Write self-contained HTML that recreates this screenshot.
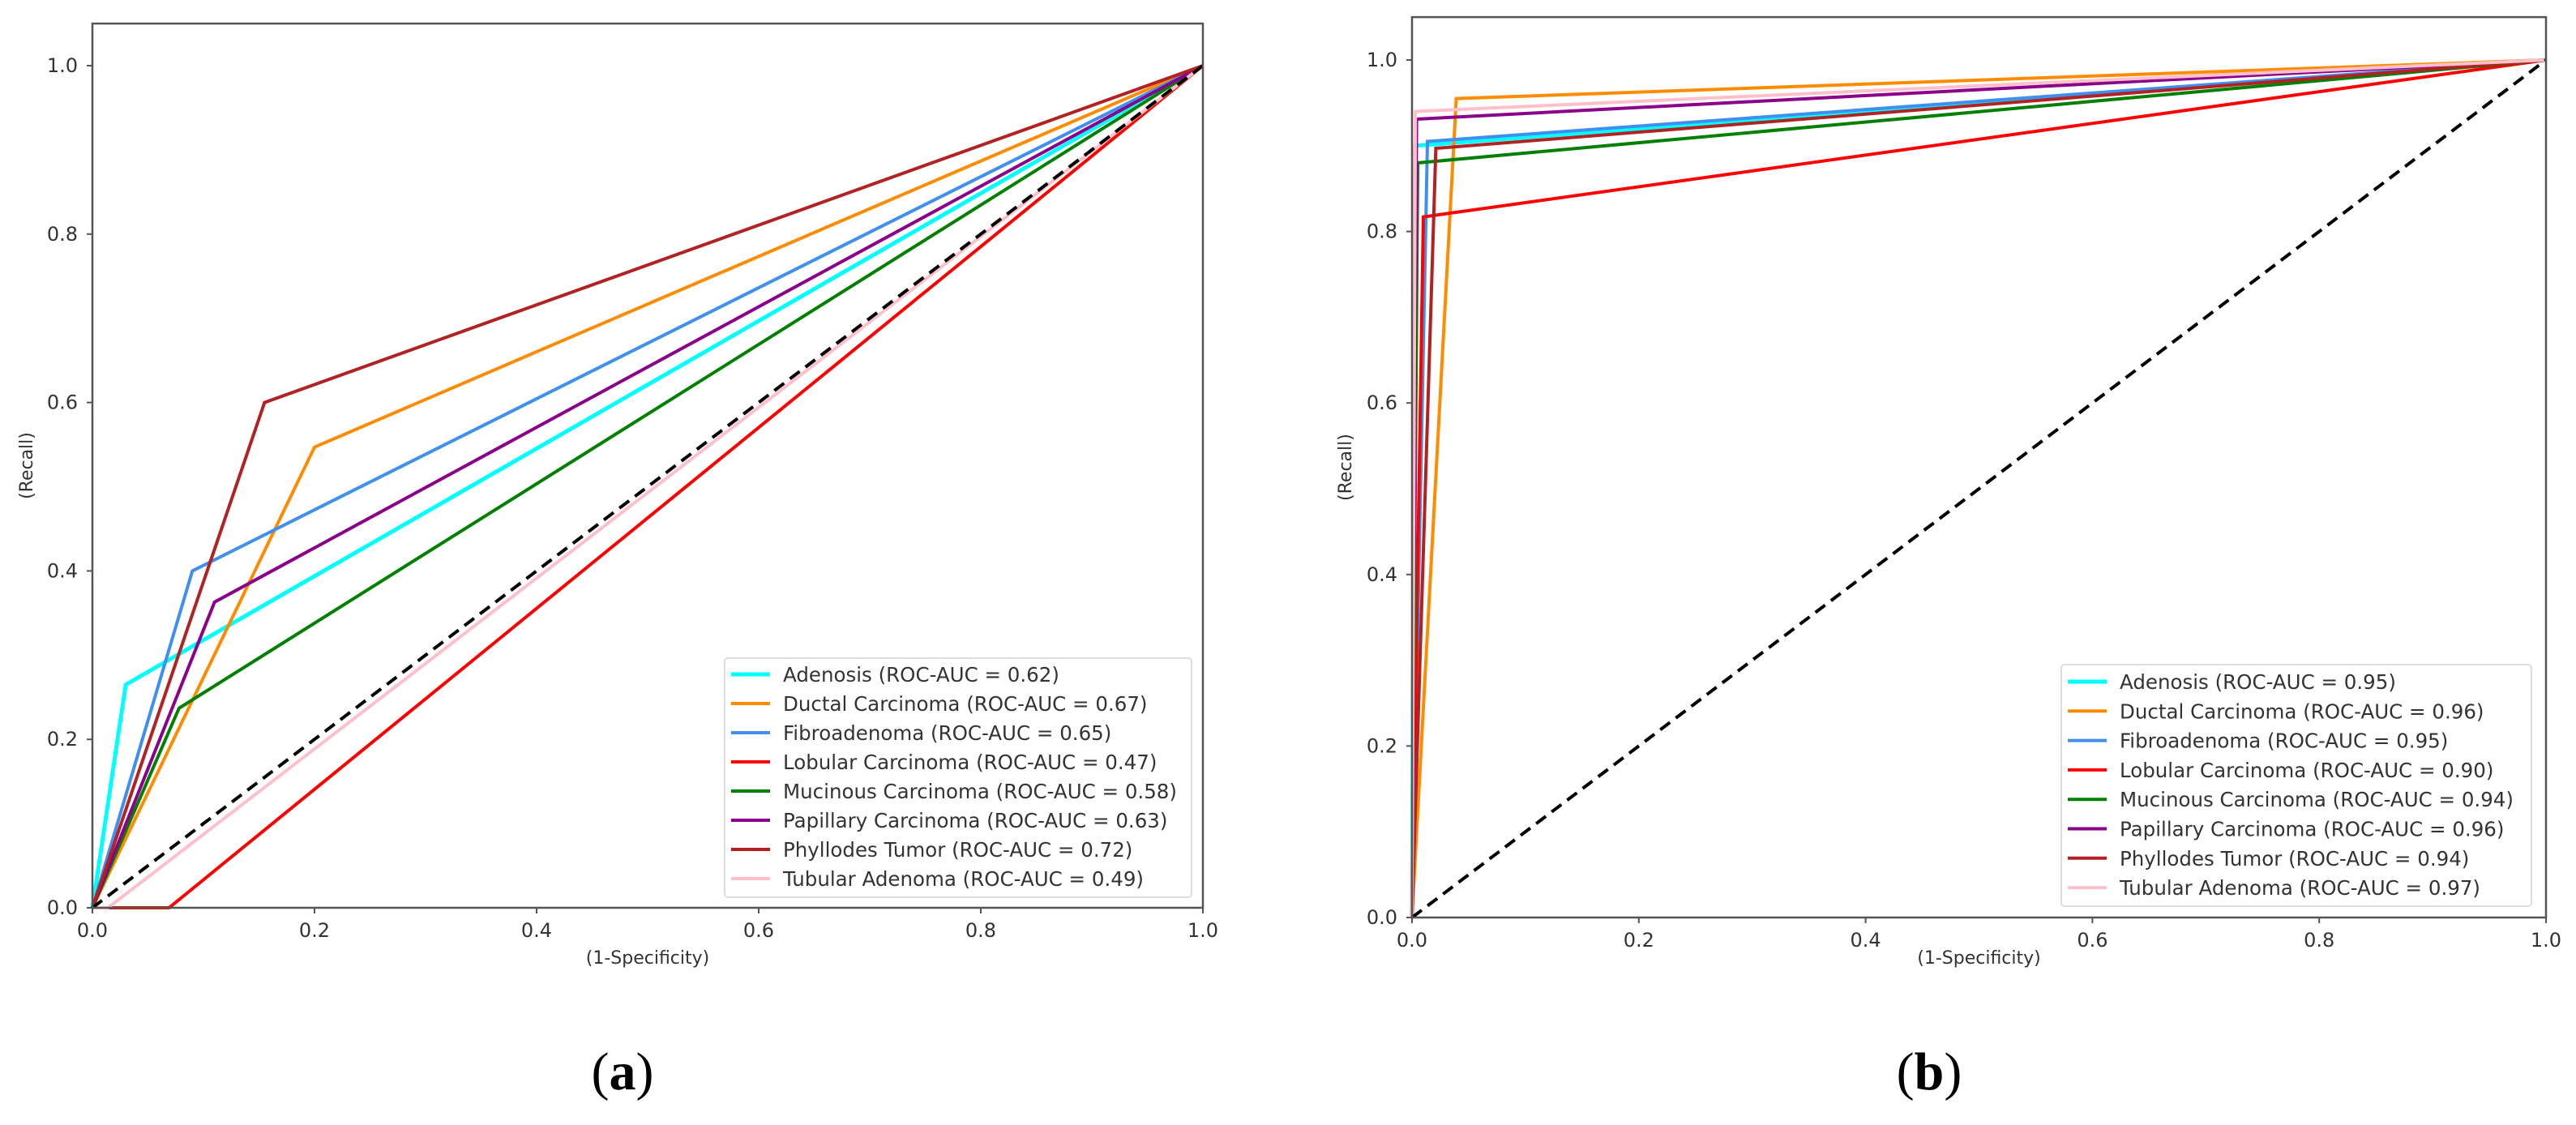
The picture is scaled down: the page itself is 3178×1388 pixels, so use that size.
<!DOCTYPE html>
<html><head><meta charset="utf-8"><style>
html,body{margin:0;padding:0;background:#fff;}
svg text{font-family:"DejaVu Sans","Liberation Sans",sans-serif;fill:#333;}
</style></head><body>
<svg id="fig" width="3178" height="1383" xmlns="http://www.w3.org/2000/svg"></svg>
<script>
const classNames = ["Adenosis","Ductal Carcinoma","Fibroadenoma","Lobular Carcinoma","Mucinous Carcinoma","Papillary Carcinoma","Phyllodes Tumor","Tubular Adenoma"];
const colors = ["#00ffff","#ff8c00","#3f8ff0","#ff0000","#008000","#8b008b","#b22222","#ffc0cb"];
const aucA = ["0.62","0.67","0.65","0.47","0.58","0.63","0.72","0.49"];
const aucB = ["0.95","0.96","0.95","0.90","0.94","0.96","0.94","0.97"];
// panel (a) ROC points: fpr arrays and tpr arrays
const fprA = [[0,0.03,1],[0,0.2,1],[0,0.09,1],[0,0.069,1],[0,0.078,1],[0,0.11,1],[0,0.155,1],[0,0.014,1]];
const tprA = [[0,0.265,1],[0,0.547,1],[0,0.40,1],[0,0,1],[0,0.237,1],[0,0.363,1],[0,0.60,1],[0,0,1]];
// panel (b)
const fprB = [[0,0.003,1],[0,0.039,1],[0,0.0136,1],[0,0.01,1],[0,0.005,1],[0,0.004,1],[0,0.021,1],[0,0.003,1]];
const tprB = [[0,0.90,1],[0,0.955,1],[0,0.905,1],[0,0.817,1],[0,0.88,1],[0,0.931,1],[0,0.897,1],[0,0.94,1]];
const ticks = [0,0.2,0.4,0.6,0.8,1.0];
const tickLabels = ["0.0","0.2","0.4","0.6","0.8","1.0"];

const NS="http://www.w3.org/2000/svg";
const svg=document.getElementById('fig');
function mk(tag,attrs,parent){const e=document.createElementNS(NS,tag);for(const k in attrs)e.setAttribute(k,attrs[k]);(parent||svg).appendChild(e);return e;}

function panel(p){
  const g=mk('g',{});
  
  
  const sx=v=>p.x0+v*(p.x1-p.x0);
  const sy=v=>p.y0-v*(p.y0-p.y1);
  const top=sy(1.05);
  for(let i=0;i<classNames.length;i++){
    const pts=p.fpr[i].map((f,j)=>sx(f)+','+sy(p.tpr[i][j])).join(' ');
    const l=mk('polyline',{points:pts,fill:'none',stroke:colors[i],'stroke-width':i==0?5:4,'stroke-linejoin':'miter'},g);
    
    
  }
  const d=mk('line',{x1:sx(0),y1:sy(0),x2:sx(1),y2:sy(1),stroke:'#000','stroke-width':4,'stroke-dasharray':'15,9'},g);
  
  
  const fr=mk('rect',{x:p.x0,y:top,width:p.x1-p.x0,height:p.y0-top,fill:'none',stroke:'#555','stroke-width':2.5},g);
  
  
  ticks.forEach((t,k)=>{
    mk('line',{x1:sx(t),y1:p.y0,x2:sx(t),y2:p.y0+7,stroke:'#555','stroke-width':2},g);
    const tx=mk('text',{x:sx(t),y:p.y0+36,'text-anchor':'middle','font-size':24},g);
    tx.textContent=tickLabels[k];
    
    
    mk('line',{x1:p.x0-7,y1:sy(t),x2:p.x0,y2:sy(t),stroke:'#555','stroke-width':2},g);
    const ty=mk('text',{x:p.x0-18,y:sy(t)+8,'text-anchor':'end','font-size':24},g);
    ty.textContent=tickLabels[k];
    
    
  });
  const xl=mk('text',{x:(p.x0+p.x1)/2,y:1189,'text-anchor':'middle','font-size':22},g);
  xl.textContent='(1-Specificity)';
  
  
  const yl=mk('text',{x:0,y:0,'text-anchor':'middle','font-size':22,transform:`translate(${p.ylx},${(top+p.y0)/2}) rotate(-90)`},g);
  yl.textContent='(Recall)';
  
  
  const lg=mk('g',{},g);
  
  
  mk('rect',{x:p.lx,y:p.ly,width:p.lw,height:p.lh,rx:4,fill:'#fff','fill-opacity':0.85,stroke:'#ddd','stroke-width':2},lg);
  for(let i=0;i<classNames.length;i++){
    const yy=p.ly+p.r0+i*p.rs;
    const e=mk('g',{},lg);
    
    
    mk('line',{x1:p.lx+8,y1:yy,x2:p.lx+56,y2:yy,stroke:colors[i],'stroke-width':i==0?5:4},e);
    const t=mk('text',{x:p.lx+72,y:yy+9,'font-size':24.5},e);
    t.textContent=classNames[i]+' (ROC-AUC = '+p.auc[i]+')';
  }
  const c=mk('text',{x:p.cx,y:1344,'text-anchor':'middle','font-size':66,style:'font-family:"Liberation Serif",serif;fill:#000'},g);
  c.innerHTML='(<tspan font-weight="bold">'+p.cap+'</tspan>)';
  
  
}
panel({id:'a',x0:114,x1:1484,y0:1120,y1:81,fpr:fprA,tpr:tprA,auc:aucA,ylx:40,lx:894,ly:812,lw:576,lh:295,r0:20,rs:36,cx:768,cap:'a'});
panel({id:'b',x0:1742,x1:3141,y0:1132,y1:74,fpr:fprB,tpr:tprB,auc:aucB,ylx:1667,lx:2543,ly:820,lw:580,lh:298,r0:21,rs:36.3,cx:2380,cap:'b'});
</script>
</body></html>
